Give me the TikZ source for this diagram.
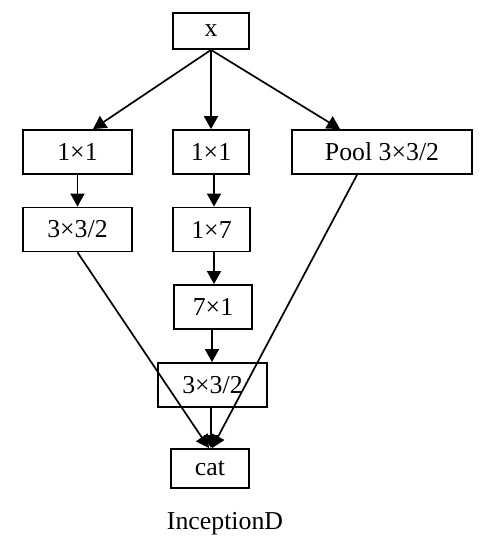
\documentclass[tikz,border=0pt]{standalone}
\usepackage{fontspec}
\setmainfont{Liberation Serif}
\usepackage{tikz}
\usetikzlibrary{arrows.meta}

\begin{document}
\begin{tikzpicture} [x=0.5pt, y=-0.5pt,
  box/.style={draw, line width=0.9pt, inner sep=0pt, minimum height=22pt, font=\fontsize{12.9}{15}\selectfont},
  arr/.style={line width=0.85pt, -{Triangle[length=6.5pt, width=7pt]}}]
%\draw [help lines, step=10](0,0) grid (486,555);
\useasboundingbox (0,0) rectangle (486,555);

\node [box, minimum width=38pt, minimum height=18pt] (x) at (211,31) {x};
\node [box, minimum width=54.5pt] (a1) at (77.5,152) {1×1};
\node [box, minimum width=38pt] (b1) at (211,152) {1×1};
\node [box, minimum width=90pt] (pool) at (382,152) {Pool 3×3/2};
\node [box, minimum width=54.5pt] (a2) at (77.5,229.5) {3×3/2};
\node [box, minimum width=38.5pt] (b2) at (211.5,229.5) {1×7};
\node [box, minimum width=39pt] (b3) at (213,307) {7×1};
\node [box, minimum width=54.5pt] (b4) at (212.5,385) {3×3/2};
\node [box, minimum width=39pt, minimum height=19.5pt] (cat) at (210,468.5) {cat};
\node [font=\fontsize{12.9}{15}\selectfont] (name) at (225,524) {InceptionD};

\draw [arr] (x.south) -- ([xshift=7.75pt]a1.north);
\draw [arr] (x.south) -- (b1.north);
\draw [arr] (x.south) -- ([xshift=-21pt]pool.north);
\draw [arr] (a1) -- (a2);
\draw [arr] ([xshift=1.5pt]b1.south) -- ([xshift=1.25pt]b2.north);
\draw [arr] ([xshift=1.25pt]b2.south) -- ([xshift=0.5pt]b3.north);
\draw [arr] ([xshift=-0.5pt]b3.south) -- ([xshift=-0.25pt]b4.north);

\draw [arr] (a2.south) -- ([xshift=-0.5pt]cat.north);
\draw [arr] ([xshift=-12.5pt]pool.south) -- ([xshift=1pt]cat.north);
\draw [arr] ([xshift=-0.75pt]b4.south) -- ([xshift=0.5pt]cat.north);

\end{tikzpicture}
\end{document}
